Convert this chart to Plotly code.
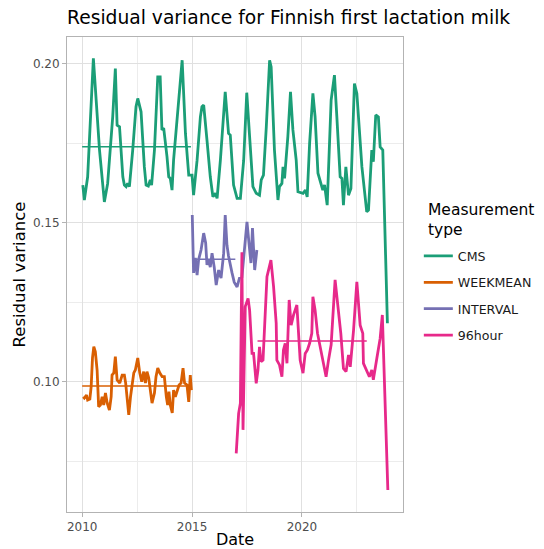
import plotly.graph_objects as go

# ---- data (decimal years, residual variance) ----
cms_year = [2010.03, 2010.10, 2010.25, 2010.51, 2010.79, 2011.01, 2011.16, 2011.39, 2011.51, 2011.59,
            2011.70, 2011.85, 2011.92, 2012.00, 2012.07, 2012.15, 2012.30, 2012.45, 2012.53, 2012.68,
            2012.83, 2012.91, 2013.01, 2013.10, 2013.16, 2013.29, 2013.44, 2013.55, 2013.63, 2013.71,
            2013.86, 2013.94, 2014.01, 2014.09, 2014.16, 2014.32, 2014.55, 2014.70, 2014.85, 2015.00,
            2015.07, 2015.23, 2015.38, 2015.45, 2015.53, 2015.68, 2015.83, 2015.95, 2016.06, 2016.14,
            2016.29, 2016.51, 2016.66, 2016.74, 2016.89, 2017.05, 2017.20, 2017.35, 2017.49, 2017.62,
            2017.77, 2017.92, 2018.07, 2018.15, 2018.25, 2018.38, 2018.53, 2018.60, 2018.75, 2018.91,
            2018.98, 2019.09, 2019.14, 2019.21, 2019.36, 2019.48, 2019.59, 2019.74, 2019.82, 2020.05,
            2020.16, 2020.24, 2020.35, 2020.50, 2020.60, 2020.73, 2020.88, 2020.95, 2021.03, 2021.15,
            2021.33, 2021.48, 2021.59, 2021.74, 2021.82, 2021.89, 2022.00, 2022.12, 2022.23, 2022.39,
            2022.50, 2022.73, 2022.95, 2023.03, 2023.18, 2023.25, 2023.36, 2023.48, 2023.56, 2023.68,
            2023.89]
cms_value = [0.1618, 0.1571, 0.1644, 0.2016, 0.1728, 0.1565, 0.1623, 0.1832, 0.1984, 0.1806,
             0.1801, 0.1644, 0.1618, 0.1613, 0.1623, 0.1613, 0.1728, 0.1864, 0.1890, 0.1848,
             0.1675, 0.1618, 0.1615, 0.1634, 0.1618, 0.1728, 0.1958, 0.1958, 0.1791, 0.1797,
             0.1707, 0.1644, 0.1639, 0.1602, 0.1696, 0.1832, 0.2010, 0.1780, 0.1649, 0.1649,
             0.1586, 0.1696, 0.1832, 0.1864, 0.1869, 0.1759, 0.1644, 0.1581, 0.1592, 0.1576,
             0.1696, 0.1911, 0.1780, 0.1775, 0.1618, 0.1576, 0.1576, 0.1696, 0.1908, 0.1770,
             0.1613, 0.1592, 0.1586, 0.1634, 0.1649, 0.1801, 0.2010, 0.1989, 0.1728, 0.1571,
             0.1613, 0.1623, 0.1675, 0.1639, 0.1770, 0.1911, 0.1791, 0.1696, 0.1597, 0.1592,
             0.1602, 0.1581, 0.1749, 0.1906, 0.1832, 0.1655, 0.1613, 0.1602, 0.1618, 0.1555,
             0.1885, 0.1963, 0.1832, 0.1644, 0.1639, 0.1555, 0.1675, 0.1586, 0.1607, 0.1937,
             0.1906, 0.1675, 0.1534, 0.1539, 0.1728, 0.1691, 0.1838, 0.1832, 0.1738, 0.1728,
             0.1184]

weekmean_year = [2010.05, 2010.10, 2010.20, 2010.25, 2010.35, 2010.41, 2010.47, 2010.53, 2010.60, 2010.68,
                 2010.75, 2010.83, 2010.91, 2010.98, 2011.06, 2011.14, 2011.24, 2011.32, 2011.36, 2011.44,
                 2011.51, 2011.59, 2011.71, 2011.82, 2011.92, 2011.98, 2012.12, 2012.20, 2012.35, 2012.42,
                 2012.53, 2012.62, 2012.71, 2012.80, 2012.88, 2012.95, 2013.03, 2013.10, 2013.18, 2013.29,
                 2013.36, 2013.44, 2013.53, 2013.64, 2013.74, 2013.83, 2013.89, 2013.95, 2014.01, 2014.10,
                 2014.16, 2014.24, 2014.32, 2014.41, 2014.50, 2014.59, 2014.66, 2014.77, 2014.85, 2014.92,
                 2014.97]
weekmean_value = [0.0953, 0.0949, 0.0958, 0.0943, 0.0946, 0.0985, 0.1075, 0.1110, 0.1094, 0.1037,
                  0.0922, 0.0927, 0.0953, 0.0927, 0.0965, 0.0933, 0.0911, 0.0953, 0.1021, 0.1028,
                  0.1079, 0.1006, 0.0996, 0.1021, 0.1021, 0.0996, 0.0896, 0.0953, 0.1028, 0.1037,
                  0.1075, 0.1028, 0.1000, 0.1032, 0.0996, 0.1032, 0.1012, 0.0965, 0.0933, 0.0965,
                  0.1016, 0.1043, 0.1028, 0.1016, 0.1016, 0.0953, 0.0927, 0.0969, 0.0927, 0.0902,
                  0.0974, 0.0953, 0.0974, 0.0990, 0.0996, 0.1043, 0.0996, 0.0990, 0.0937, 0.1021,
                  0.0974]

interval_year = [2015.01, 2015.07, 2015.15, 2015.23, 2015.30, 2015.41, 2015.53, 2015.62, 2015.68, 2015.75,
                 2015.83, 2015.91, 2016.01, 2016.10, 2016.21, 2016.32, 2016.44, 2016.51, 2016.59, 2016.66,
                 2016.82, 2016.92, 2017.05, 2017.16, 2017.27, 2017.38, 2017.50, 2017.60, 2017.68, 2017.75,
                 2017.85, 2017.95]
interval_value = [0.1524, 0.1342, 0.1389, 0.1335, 0.1384, 0.1414, 0.1467, 0.1436, 0.1367, 0.1384,
                  0.1360, 0.1404, 0.1360, 0.1304, 0.1351, 0.1326, 0.1404, 0.1524, 0.1429, 0.1395,
                  0.1342, 0.1313, 0.1298, 0.1326, 0.1329, 0.1404, 0.1502, 0.1429, 0.1373, 0.1483,
                  0.1351, 0.1414]

h96_year = [2017.01, 2017.12, 2017.20, 2017.27, 2017.32, 2017.42, 2017.55, 2017.62, 2017.73, 2017.80,
            2017.92, 2018.00, 2018.07, 2018.14, 2018.23, 2018.32, 2018.41, 2018.59, 2018.71, 2018.83,
            2018.86, 2018.98, 2019.09, 2019.16, 2019.24, 2019.32, 2019.42, 2019.51, 2019.62, 2019.77,
            2019.85, 2019.92, 2019.95, 2020.05, 2020.15, 2020.25, 2020.35, 2020.45, 2020.50, 2020.60,
            2020.71, 2020.83, 2020.98, 2021.10, 2021.21, 2021.33, 2021.51, 2021.66, 2021.77, 2021.89,
            2022.01, 2022.12, 2022.20, 2022.35, 2022.50, 2022.65, 2022.77, 2022.80, 2022.95, 2023.07,
            2023.18, 2023.25, 2023.41, 2023.56, 2023.66, 2023.79, 2023.91]
h96_value = [0.0775, 0.0901, 0.0933, 0.1407, 0.0849, 0.1236, 0.1262, 0.1225, 0.1089, 0.1089,
             0.0995, 0.1037, 0.1110, 0.1063, 0.1068, 0.1194, 0.1330, 0.1382, 0.1299, 0.1184,
             0.1068, 0.1053, 0.1016, 0.1100, 0.1121, 0.1058, 0.1257, 0.1178, 0.1210, 0.1241,
             0.1131, 0.1068, 0.1058, 0.1027, 0.1089, 0.1100, 0.1121, 0.1152, 0.1267, 0.1225,
             0.1152, 0.1110, 0.1068, 0.1016, 0.1068, 0.1116, 0.1320, 0.1225, 0.1152, 0.1042,
             0.1032, 0.1084, 0.1047, 0.1162, 0.1314, 0.1178, 0.1152, 0.1058, 0.1037, 0.1016,
             0.1037, 0.1006, 0.1074, 0.1136, 0.1210, 0.0953, 0.0660]

# period means: (start, end, mean)
mean_periods = {
    "CMS": (2010.00, 2014.95, 0.1738),
    "WEEKMEAN": (2010.00, 2014.97, 0.0987),
    "INTERVAL": (2015.00, 2016.97, 0.1385),
    "96hour": (2017.98, 2022.95, 0.1128),
}

series = [
    ("CMS", cms_year, cms_value, "#1B9E77"),
    ("WEEKMEAN", weekmean_year, weekmean_value, "#D95F02"),
    ("INTERVAL", interval_year, interval_value, "#7570B3"),
    ("96hour", h96_year, h96_value, "#E7298A"),
]

x_ticks = [2010, 2015, 2020]
y_ticks = [0.10, 0.15, 0.20]

FONT = "DejaVu Sans"

fig = go.Figure()
for name, xs, ys, col in series:
    fig.add_trace(go.Scatter(
        x=xs, y=ys, mode="lines", name=name, legendgroup=name,
        line=dict(color=col, width=2.8),
    ))
for name, xs, ys, col in series:
    x0, x1, m = mean_periods[name]
    fig.add_trace(go.Scatter(
        x=[x0, x1], y=[m, m], mode="lines", showlegend=False, legendgroup=name,
        line=dict(color=col, width=1.5), hoverinfo="skip",
    ))

grid_major = "#e0e0e0"
grid_minor = "#ececec"

fig.update_layout(
    width=544, height=549,
    margin=dict(l=67, r=141, t=37, b=37, autoexpand=False),
    paper_bgcolor="white", plot_bgcolor="white",
    font=dict(family=FONT, color="#000000"),
    title=dict(
        text="Residual variance for Finnish first lactation milk",
        x=67 / 544, xanchor="left", xref="container",
        y=1 - 17 / 549, yanchor="middle", yref="container",
        font=dict(size=18.7, color="#000000"),
    ),
    showlegend=True,
    legend=dict(
        font=dict(size=12.6, color="#1a1a1a"),
        x=1.062, xanchor="left", y=0.570, yanchor="top",
        tracegroupgap=7, traceorder="grouped",
        indentation=-6,
        bgcolor="rgba(0,0,0,0)",
    ),
    annotations=[dict(
        text="Measurement<br>type", xref="paper", yref="paper",
        x=1.0685, y=0.6147, xanchor="left", yanchor="middle",
        align="left", showarrow=False,
        font=dict(size=15.5, color="#000000"),
    )],
    xaxis=dict(
        range=[2009.31, 2024.6],
        tickvals=x_ticks, ticktext=[str(v) for v in x_ticks],
        ticks="outside", ticklen=4, tickcolor="#b3b3b3",
        tickfont=dict(size=12, color="#4d4d4d"),
        showgrid=True, gridcolor=grid_major, gridwidth=1,
        minor=dict(tickvals=[2012.5, 2017.5, 2022.5], showgrid=True,
                   gridcolor=grid_minor, gridwidth=1, ticks=""),
        showline=True, linecolor="#b3b3b3", linewidth=1, mirror=True,
        zeroline=False, automargin=False,
        title=dict(text="Date", font=dict(size=16, color="#000000"), standoff=7),
    ),
    yaxis=dict(
        range=[0.0591, 0.2083],
        tickvals=y_ticks, ticktext=["%.2f" % v for v in y_ticks],
        ticks="outside", ticklen=4, tickcolor="#b3b3b3",
        tickfont=dict(size=12, color="#4d4d4d"),
        showgrid=True, gridcolor=grid_major, gridwidth=1,
        minor=dict(tickvals=[0.075, 0.125, 0.175], showgrid=True,
                   gridcolor=grid_minor, gridwidth=1, ticks=""),
        showline=True, linecolor="#b3b3b3", linewidth=1, mirror=True,
        zeroline=False, automargin=False,
        title=dict(text="Residual variance", font=dict(size=16.5, color="#000000"), standoff=3),
    ),
)

fig.write_html("out.html")
